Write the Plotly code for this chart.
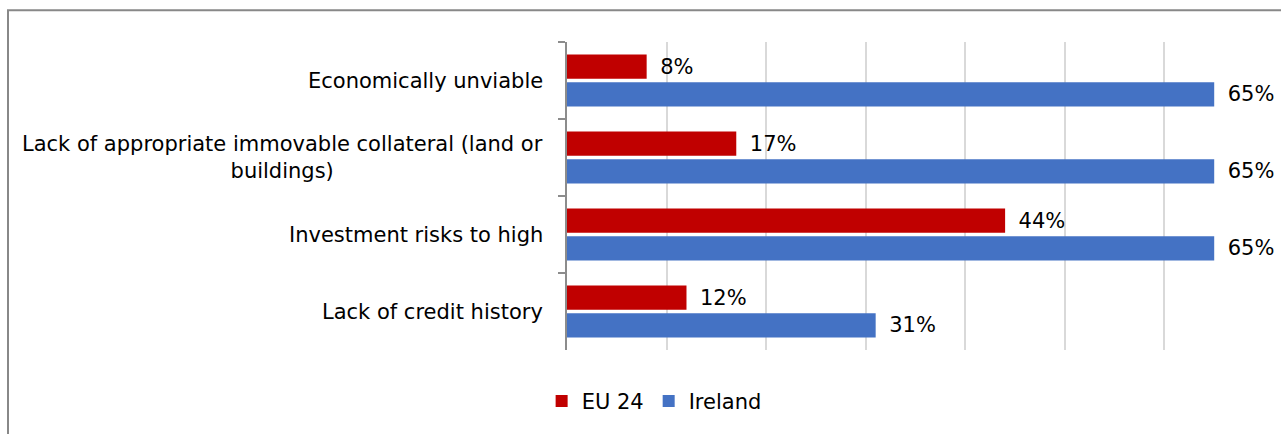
import plotly.graph_objects as go

# Survey reasons, listed top to bottom
categories = [
    "Economically unviable",
    "Lack of appropriate immovable collateral (land or<br>buildings)",
    "Investment risks to high",
    "Lack of credit history",
]
eu24 = [0.08, 0.17, 0.44, 0.12]
ireland = [0.65, 0.65, 0.65, 0.31]

FONT = "DejaVu Sans"
RED = "#C00000"
BLUE = "#4472C4"


def pct_labels(values):
    # en space gives the value label some breathing room from the bar end
    return ["\u2002" + f"{round(v * 100)}%" for v in values]


fig = go.Figure()
fig.add_trace(go.Bar(
    y=categories, x=eu24, name="EU 24", orientation="h",
    marker=dict(color=RED, line=dict(width=0)),
    text=pct_labels(eu24), textposition="outside",
    textfont=dict(family=FONT, size=21, color="#000000"),
    cliponaxis=False, hoverinfo="skip",
))
fig.add_trace(go.Bar(
    y=categories, x=ireland, name="Ireland", orientation="h",
    marker=dict(color=BLUE, line=dict(width=0)),
    text=pct_labels(ireland), textposition="outside",
    textfont=dict(family=FONT, size=21, color="#000000"),
    cliponaxis=False, hoverinfo="skip",
))

# Category labels, centred line by line to the left of the axis
for cat in categories:
    fig.add_annotation(
        x=0, xref="paper", y=cat, yref="y",
        text=cat, showarrow=False, xanchor="right", yanchor="middle",
        xshift=-22, align="center",
        font=dict(family=FONT, size=21, color="#000000"),
    )

# Chart frame
fig.add_shape(
    type="rect", xref="paper", yref="paper",
    x0=(8 - 567) / 697, x1=(1300 - 567) / 697,
    y0=(353 - 460) / 311, y1=(353 - 10) / 311,
    line=dict(color="#888888", width=2), fillcolor="rgba(0,0,0,0)",
    layer="below",
)

fig.update_layout(
    width=1281, height=434,
    margin=dict(l=567, r=17, t=42, b=81, pad=0),
    paper_bgcolor="white", plot_bgcolor="white",
    barmode="group", bargap=0.275, bargroupgap=0.13,
    font=dict(family=FONT, size=21, color="#000000"),
    showlegend=True,
    legend=dict(
        orientation="h", x=0.125, xanchor="center", y=-0.167, yanchor="middle",
        font=dict(family=FONT, size=21, color="#000000"),
        itemwidth=30, tracegroupgap=0, bgcolor="rgba(0,0,0,0)",
    ),
    xaxis=dict(
        range=[0, 0.7], dtick=0.1, showgrid=True, gridcolor="#D9D9D9",
        gridwidth=2, zeroline=False, showline=False, showticklabels=False,
        ticks="", fixedrange=True,
    ),
    yaxis=dict(
        autorange="reversed", showline=True, linecolor="#8C8C8C", linewidth=2,
        ticks="outside", tickson="boundaries", ticklen=7, tickwidth=2,
        tickcolor="#8C8C8C", showticklabels=False, showgrid=False,
        fixedrange=True,
    ),
)

fig.write_html("out.html")
